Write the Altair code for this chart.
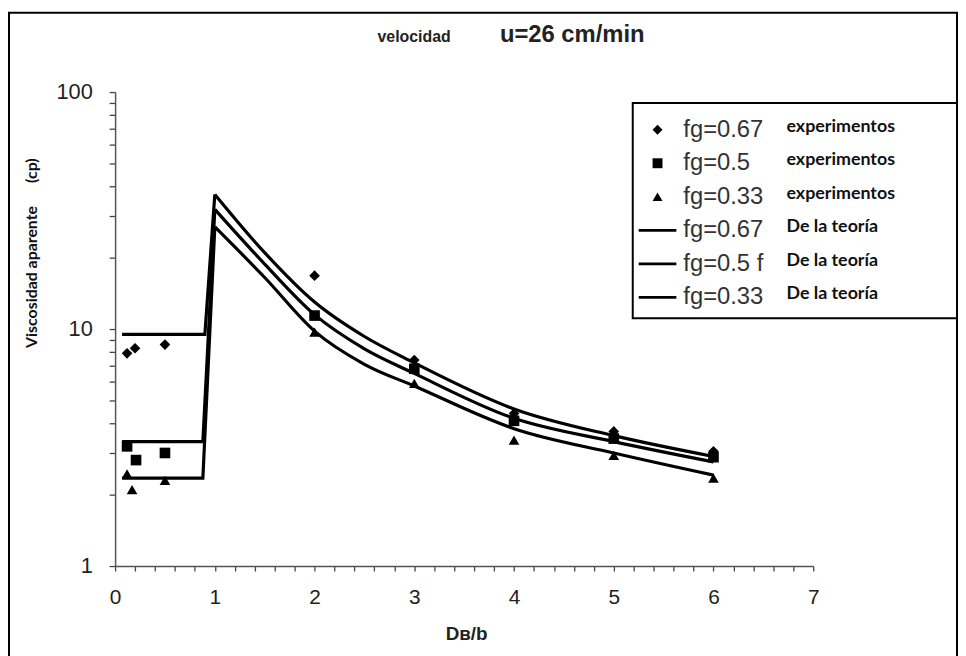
import altair as alt
import pandas as pd

# ---------------- data ----------------
keys = ["k0", "k1", "k2", "k3", "k4", "k5"]
note_keys = ["n0", "n1", "n2", "n3", "n4", "n5"]
legend_fg = ["fg=0.67", "fg=0.5", "fg=0.33", "fg=0.67", "fg=0.5 f", "fg=0.33"]
legend_note = ["experimentos", "experimentos", "experimentos",
               "De la teoría", "De la teoría", "De la teoría"]

# experiments
x_exp_067 = [0.12, 0.2, 0.5, 2, 3, 4, 5, 6]
exp_067 = [7.9, 8.3, 8.6, 16.8, 7.4, 4.4, 3.7, 3.05]
x_exp_05 = [0.12, 0.21, 0.5, 2, 3, 4, 5, 6]
exp_05 = [3.2, 2.8, 3.0, 11.4, 6.8, 4.1, 3.45, 2.88]
x_exp_033 = [0.12, 0.17, 0.5, 2, 3, 4, 5, 6]
exp_033 = [2.45, 2.1, 2.3, 9.7, 5.9, 3.4, 2.93, 2.35]

# theory: flat part for Db/b < 1
flat_start = [0.07, 0.07, 0.07]
flat_end = [0.9, 0.88, 0.88]
flat_val = [9.5, 3.35, 2.35]
# theory: decaying part for Db/b >= 1
theory_x = [1, 1.5, 2, 2.5, 3, 4, 5, 6]
theory_067 = [37, 21, 13, 9.3, 7.2, 4.6, 3.55, 2.9]
theory_05 = [32, 18.8, 11.5, 8.25, 6.5, 4.2, 3.35, 2.75]
theory_033 = [27, 16.5, 9.8, 7.1, 5.75, 3.8, 3.0, 2.42]

x_ticks = [0, 0.2, 0.4, 0.6, 0.8, 1, 1.2, 1.4, 1.6, 1.8, 2, 2.2, 2.4, 2.6, 2.8,
           3, 3.2, 3.4, 3.6, 3.8, 4, 4.2, 4.4, 4.6, 4.8, 5, 5.2, 5.4, 5.6, 5.8,
           6, 6.2, 6.4, 6.6, 6.8, 7]
y_ticks = [1, 2, 3, 4, 5, 6, 7, 8, 9, 10, 20, 30, 40, 50, 60, 70, 80, 90, 100]

# ---------------- tables ----------------
pts_rows = []
for k, nk, xs, ys in zip(keys[:3], note_keys[:3], [x_exp_067, x_exp_05, x_exp_033],
                         [exp_067, exp_05, exp_033]):
    for xv, yv in zip(xs, ys):
        pts_rows.append({"x": xv, "y": yv, "key": k, "key2": nk})
pts = pd.DataFrame(pts_rows)

theory = [theory_067, theory_05, theory_033]
step_rows, curve_rows = [], []
for j in range(3):
    k = keys[3 + j]
    step_rows += [
        {"x": flat_start[j], "y": flat_val[j], "key": k},
        {"x": flat_end[j], "y": flat_val[j], "key": k},
        {"x": theory_x[0], "y": theory[j][0], "key": k},
    ]
    for xv, yv in zip(theory_x, theory[j]):
        curve_rows.append({"x": xv, "y": yv, "key": k})
steps = pd.DataFrame(step_rows)
curves = pd.DataFrame(curve_rows)

# ---------------- layout helpers ----------------
W, H = 956, 652
X_RANGE = [107, 811]
Y_RANGE = [558, 80]
xscale = alt.Scale(domain=[0, 7], range=X_RANGE, nice=False, zero=False)
yscale = alt.Scale(type="log", domain=[1, 100], range=Y_RANGE, nice=False)

AX_COL = "#555"
TICK_COL = "#444"
LAB_COL = "#222"
SANS = "Liberation Sans"

x_axis = alt.Axis(
    values=x_ticks,
    labelExpr="datum.value % 1 == 0 ? format(datum.value, 'd') : ''",
    ticks=True, tickSize=5, tickWidth=1.3, tickColor=TICK_COL, tickOpacity=1,
    offset=-(H - Y_RANGE[0]),
    grid=False, domainColor=AX_COL, domainWidth=1.5,
    labelFont=SANS, labelFontSize=21, labelColor=LAB_COL, labelPadding=16,
    labelOverlap=False, labelFlush=False, labelBound=False,
    title="Dʙ/b", titleFont=SANS, titleFontSize=19, titleFontWeight="bold",
    titleColor=LAB_COL, titleX=461, titleY=68, titleAlign="center", titleBaseline="middle",
)
y_axis = alt.Axis(
    values=y_ticks,
    labelExpr="(datum.value == 1 || datum.value == 10 || datum.value == 100) ? format(datum.value, 'd') : ''",
    ticks=True, tickSize=6, tickWidth=1.3, tickColor=TICK_COL, tickOpacity=1,
    offset=-X_RANGE[0],
    grid=False, domainColor=AX_COL, domainWidth=1.5,
    labelFont=SANS, labelFontSize=22, labelColor=LAB_COL, labelPadding=17,
    labelOverlap=False, labelFlush=False, labelBound=False,
    title="Viscosidad aparente\u00a0\u00a0\u00a0\u00a0\u00a0\u00a0(cp)",
    titleFont="Lato", titleFontSize=16, titleFontWeight="bold", titleColor="#111",
    titleAngle=270, titleX=-84, titleY=242, titleAlign="center", titleBaseline="middle",
)

Y = alt.Y("y:Q", scale=yscale, axis=y_axis)

fg_expr = "[" + ",".join("'%s'" % s for s in legend_fg) + "]"
note_labels = [s + ("\u2003\u2003\u2003\u2002\u200b" if s == "experimentos" else "")
               for s in legend_note]
note_expr = "[" + ",".join("'%s'" % s for s in note_labels) + "]"
keys_expr = "[" + ",".join("'%s'" % s for s in keys) + "]"
note_keys_expr = "[" + ",".join("'%s'" % s for s in note_keys) + "]"

LINE_SYM = "M-3.8,-0.28H3.8V0.28H-3.8Z"
shape_range = ["diamond", "square", "triangle-up", LINE_SYM, LINE_SYM, LINE_SYM]

step_layer = alt.Chart(steps).mark_line(color="black", strokeWidth=3.2).encode(
    x=alt.X("x:Q", scale=xscale, axis=None),
    y=Y,
    detail="key:N",
    order="x:Q",
)
curve_layer = alt.Chart(curves).mark_line(
    color="black", strokeWidth=3.2, interpolate="monotone"
).encode(
    x=alt.X("x:Q", scale=xscale, axis=None),
    y=Y,
    detail="key:N",
    order="x:Q",
)
point_layer = alt.Chart(pts).mark_point(
    filled=True, color="black", opacity=1, size=115
).encode(
    x=alt.X("x:Q", scale=xscale, axis=x_axis),
    y=Y,
    shape=alt.Shape(
        "key:N",
        scale=alt.Scale(domain=keys, range=shape_range),
        legend=alt.Legend(
            orient="none", legendX=642, legendY=106, title=None, padding=0,
            symbolSize=100, symbolOpacity=1, symbolFillColor="black",
            symbolStrokeWidth=0, rowPadding=9.8, labelOffset=14,
            labelExpr=fg_expr + "[indexof(" + keys_expr + ", datum.value)]",
            labelFont=SANS, labelFontSize=24, labelColor="#333", labelLimit=300,
        ),
    ),
)
note_layer = alt.Chart(pts).mark_point(filled=True, size=576).encode(
    x=alt.X("x:Q", scale=xscale, axis=alt.Axis(
        orient="top", domain=False, ticks=False, labels=False, grid=False,
        title="velocidad", titleFont=SANS, titleFontSize=16, titleFontWeight="bold",
        titleColor="#222", titleX=408, titleY=24, titleAlign="center",
        titleBaseline="middle")),
    y=Y,
    fill=alt.Fill(
        "key2:N",
        scale=alt.Scale(domain=note_keys, range=["transparent"] * 6),
        legend=alt.Legend(
            orient="none", legendX=629, legendY=91, title=None, padding=12,
            strokeColor="black", symbolSize=576, symbolStrokeWidth=0,
            symbolStrokeColor="transparent",
            rowPadding=9.8, labelOffset=119,
            labelExpr=note_expr + "[indexof(" + note_keys_expr + ", datum.value)]",
            labelFont="Lato", labelFontSize=18, labelFontWeight="bold",
            labelColor="#111", labelLimit=400,
        ),
    ),
)

chart = alt.layer(step_layer, curve_layer, point_layer, note_layer).resolve_scale(
    x="independent"
).properties(
    width=W, height=H,
    padding={"left": 1, "top": 2, "right": 1, "bottom": 0},
    autosize=alt.AutoSizeParams(type="none"),
    title=alt.TitleParams(
        "u=26 cm/min", font=SANS, fontSize=24, fontWeight="bold", color="#222",
        anchor="middle", dx=90, offset=-47, baseline="middle",
    ),
).configure_view(stroke="black", strokeWidth=2).configure_legend(strokeWidth=2)

chart.save("out.html", embed_options={"renderer": "svg", "actions": False})
